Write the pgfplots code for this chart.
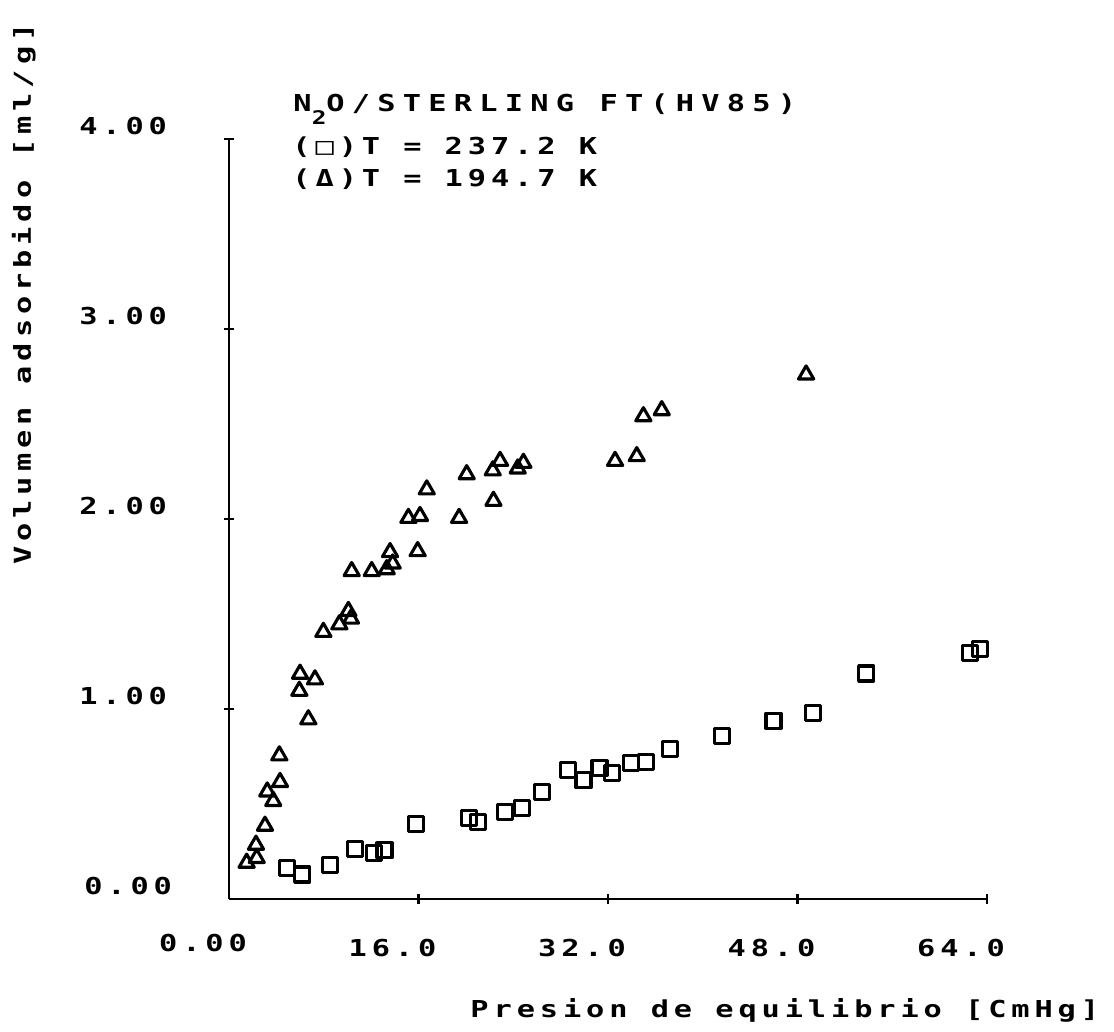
\documentclass[border=0pt]{standalone}
\usepackage{fontspec}
\usepackage{pgfplots}
\pgfplotsset{compat=1.18}
% plotter-like lettering: wide monospace with generous tracking
\newfontfamily\plotfont[FakeStretch=1.3,LetterSpace=21]{DejaVu Sans Mono}
\newfontfamily\plotfontwide[FakeStretch=1.3,LetterSpace=31]{DejaVu Sans Mono}
\newcommand\pf{\plotfont\bfseries\fontsize{9.33pt}{11pt}\selectfont}
\newcommand\pfw{\plotfontwide\bfseries\fontsize{9.33pt}{11pt}\selectfont}

\begin{document}
\begin{tikzpicture}
\useasboundingbox (-91.6pt,-53.2pt) rectangle (354pt,359.6pt);
\begin{axis}[
  at={(0pt,0pt)}, anchor=south west,
  scale only axis, width=303.2pt, height=304pt,
  xmin=0, xmax=64, ymin=0, ymax=4,
  axis lines=left,
  axis line style={-, line width=1.1pt},
  xtick={16,32,48,64}, ytick={1,2,3,4},
  xticklabels={16.0,32.0,48.0,64.0},
  yticklabels={1.00,2.00,3.00,4.00},
  extra x ticks={0}, extra y ticks={0},
  extra x tick labels={0.00}, extra y tick labels={0.00},
  extra tick style={major tick length=0pt},
  tick align=center, major tick length=4pt,
  every tick/.style={black, line width=1.1pt},
  xticklabel style={font=\pf, anchor=center, inner sep=0pt, xshift=-10.4pt, yshift=-17.6pt},
  yticklabel style={font=\pf, anchor=east, inner sep=0pt, xshift=-22.6pt, yshift=5.2pt},
  clip=false,
]
% T = 237.2 K
\addplot[only marks, mark=square, mark size=3.0pt,
  mark options={line width=1.25pt, line join=round}] coordinates {
  (4.87,0.162) (6.17,0.129) (8.53,0.180) (10.64,0.263) (12.25,0.240)
  (13.13,0.256) (15.79,0.396) (20.27,0.426) (21.03,0.405) (23.31,0.458)
  (24.75,0.479) (26.44,0.563) (28.66,0.679) (29.93,0.626) (31.28,0.688)
  (32.35,0.665) (33.93,0.714) (35.22,0.723) (37.25,0.788) (41.61,0.858)
  (45.97,0.938) (49.30,0.977) (53.80,1.187) (62.58,1.293) (63.43,1.314)
};
% T = 194.7 K
\addplot[only marks, mark=triangle, mark size=3.5pt,
  mark options={line width=1.25pt, line join=round}] coordinates {
  (1.49,0.19) (2.34,0.215) (2.28,0.285) (3.04,0.385) (3.74,0.515)
  (3.23,0.565) (4.31,0.615) (4.25,0.755) (6.70,0.945) (5.94,1.095)
  (6.00,1.185) (7.26,1.155) (7.97,1.405) (9.32,1.445) (10.30,1.475)
  (10.08,1.515) (10.36,1.725) (12.05,1.725) (13.32,1.735) (13.82,1.765)
  (13.60,1.825) (15.93,1.83) (15.15,2.005) (16.13,2.015) (16.70,2.155)
  (19.43,2.005) (20.07,2.235) (22.27,2.255) (22.89,2.305) (22.33,2.095)
  (24.38,2.265) (24.86,2.295) (32.60,2.305) (34.43,2.33) (34.99,2.54)
  (36.54,2.572) (48.73,2.76)
};
\end{axis}
% heading
\node[font=\pfw, anchor=base west, inner sep=0pt] at (25.6pt,314.8pt)
  {N\raisebox{-5pt}{\fontsize{7.5pt}{8pt}\selectfont 2}O/STERLING FT(HV85)};
\node[font=\pf, anchor=base west, inner sep=0pt] at (25.2pt,297.6pt) {(□)T = 237.2 K};
\node[font=\pf, anchor=base west, inner sep=0pt] at (25.2pt,284.8pt) {(Δ)T = 194.7 K};
% axis titles
\node[font=\pf, rotate=90, anchor=base west, inner sep=0pt] at (-79.2pt,133.6pt)
  {Volumen adsorbido [ml/g]};
\node[font=\pf, anchor=base west, inner sep=0pt] at (96.4pt,-47.6pt)
  {Presion de equilibrio [CmHg]};
\end{tikzpicture}
\end{document}
